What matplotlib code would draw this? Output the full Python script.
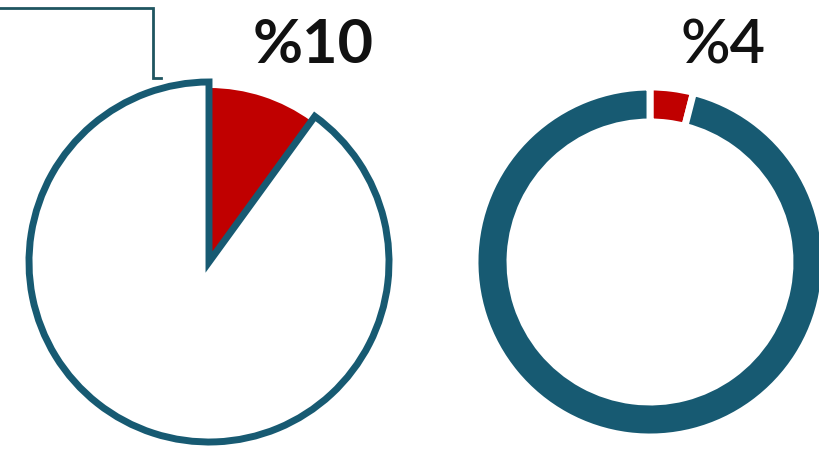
import matplotlib
matplotlib.use('Agg')
import matplotlib.pyplot as plt

# data
left_values = [10, 90]
right_values = [4, 96]
left_text = '%10'
right_text = '%4'

TEAL = '#175A72'
RED = '#C00000'

W, H = 820, 451
fig = plt.figure(figsize=(W / 100, H / 100), dpi=100)
ax = fig.add_axes([0, 0, 1, 1])

# left pie: red slice without outline, rest white with teal outline
r_left = 180
wedges, _ = ax.pie(left_values, colors=[RED, 'white'], startangle=90,
                   counterclock=False, center=(209, 189), radius=r_left,
                   wedgeprops=dict(linewidth=0))
wedges[0].set_radius(r_left - 6)
wedges[0].set_zorder(1)
wedges[1].set_edgecolor(TEAL)
wedges[1].set_linewidth(5)
wedges[1].set_zorder(2)

# right donut, red slice pulled out a bit
ax.pie(right_values, colors=[RED, TEAL], startangle=90, counterclock=False,
       center=(650, 189), radius=175, explode=[0.04, 0],
       wedgeprops=dict(width=35, edgecolor='white', linewidth=5))

# connector line
ax.plot([0, 153, 153, 161], [443, 443, 373, 373], color='#1F5560', lw=2,
        solid_joinstyle='miter', zorder=3)

ax.text(313, 406, left_text, ha='center', va='center', fontsize=44,
        fontweight='bold', family=['Lato', 'DejaVu Sans'], color='#111111')
ax.text(723, 406, right_text, ha='center', va='center', fontsize=44,
        fontweight='semibold', family=['Lato', 'DejaVu Sans'], color='#111111')

ax.set_xlim(0, W)
ax.set_ylim(0, H)
ax.set_aspect('auto')
ax.axis('off')

fig.savefig('out.png', dpi=100, facecolor='white')
